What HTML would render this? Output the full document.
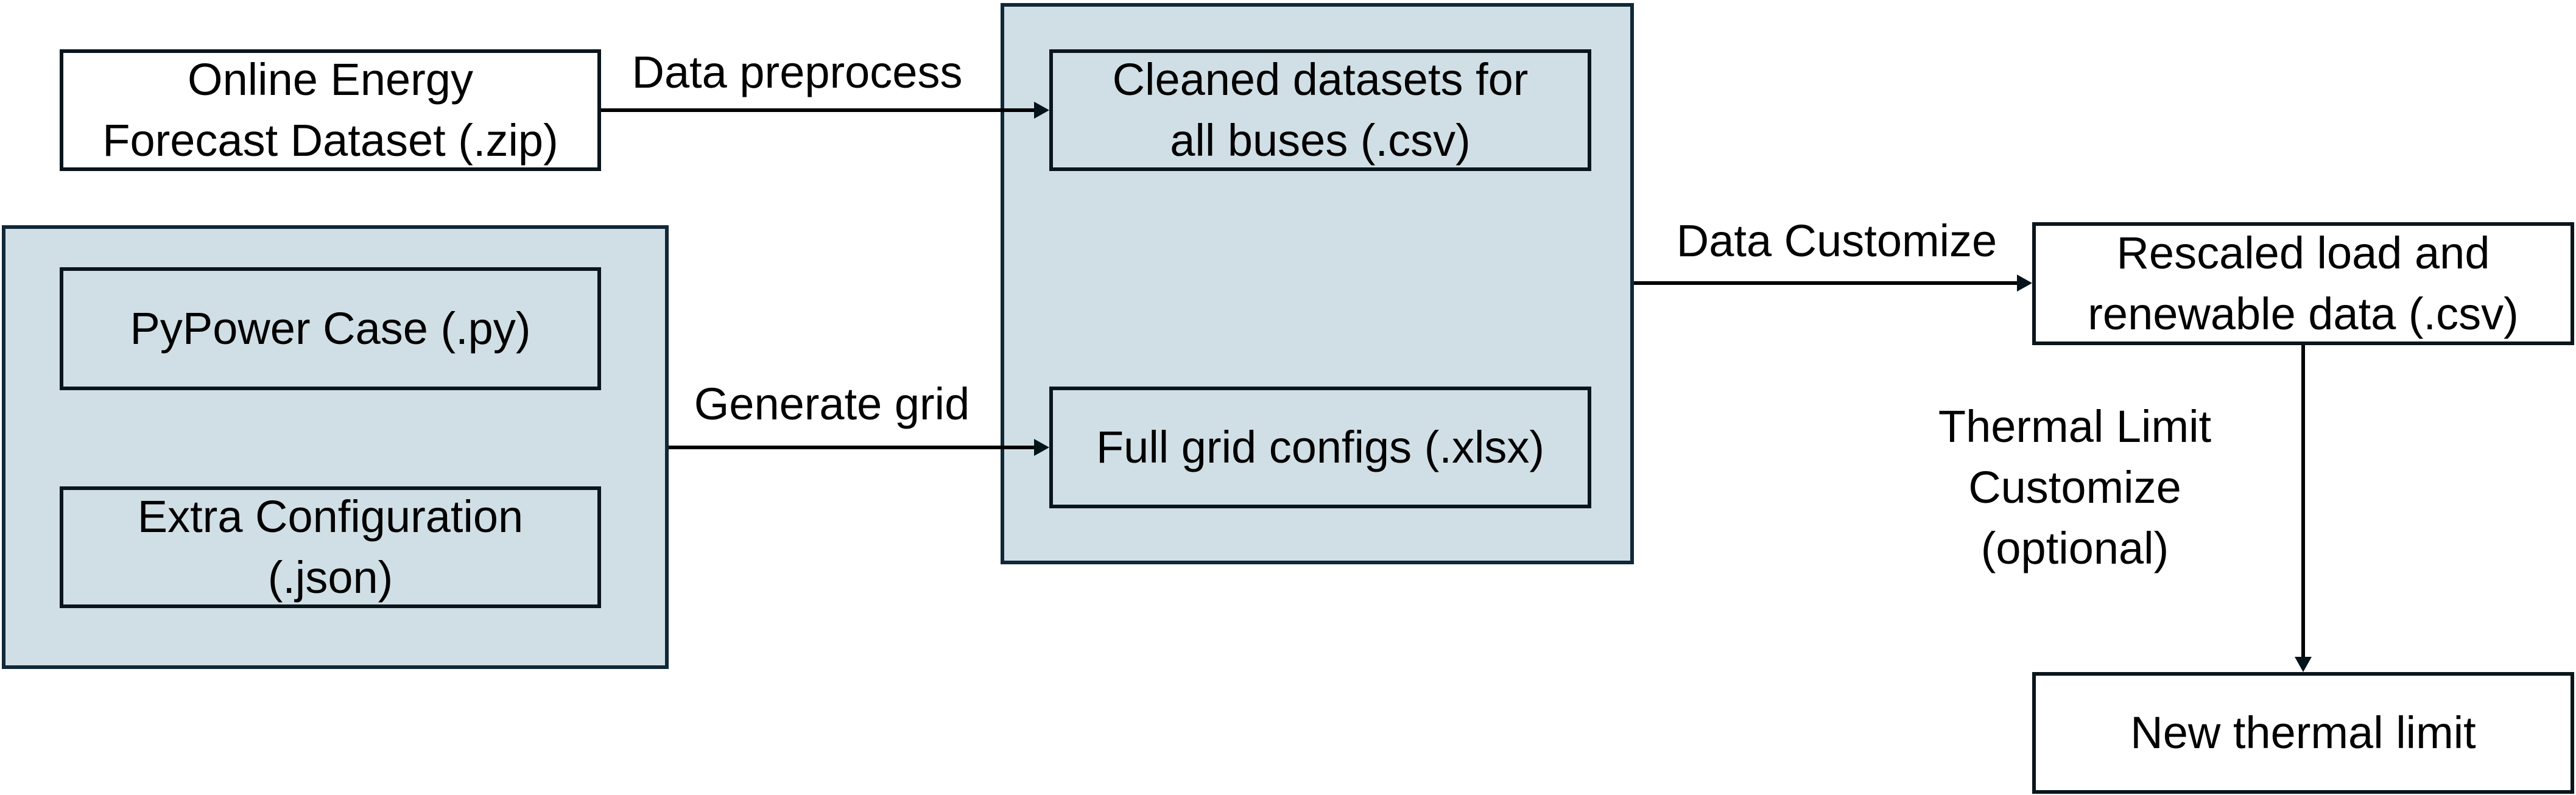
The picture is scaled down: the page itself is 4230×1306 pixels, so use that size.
<!DOCTYPE html>
<html><head><meta charset="utf-8"><style>
html,body{margin:0;padding:0;background:#fff;}
body{width:4230px;height:1306px;position:relative;overflow:hidden;font-family:"Liberation Sans",sans-serif;color:#000;}
.b{position:absolute;box-sizing:border-box;border:6px solid #0a161c;display:flex;align-items:center;justify-content:center;text-align:center;font-size:74px;line-height:100px;}
.p{position:absolute;box-sizing:border-box;border:6px solid #102838;background:#d0dfe5;}
.l{position:absolute;font-size:74px;line-height:100px;text-align:center;white-space:nowrap;transform:translateX(-50%);}
</style></head><body>
<div class="p" style="left:3px;top:370px;width:1095px;height:729px;"></div>
<div class="p" style="left:1643px;top:5px;width:1040px;height:922px;"></div>
<div class="b" style="left:98px;top:81px;width:889px;height:200px;background:#fff;">Online Energy<br>Forecast Dataset (.zip)</div>
<div class="b" style="left:98px;top:439px;width:889px;height:202px;">PyPower Case (.py)</div>
<div class="b" style="left:98px;top:799px;width:889px;height:200px;">Extra Configuration<br>(.json)</div>
<div class="b" style="left:1723px;top:81px;width:890px;height:200px;">Cleaned datasets for<br>all buses (.csv)</div>
<div class="b" style="left:1723px;top:635px;width:890px;height:200px;">Full grid configs (.xlsx)</div>
<div class="b" style="left:3337px;top:365px;width:890px;height:202px;background:#fff;">Rescaled load and<br>renewable data (.csv)</div>
<div class="b" style="left:3337px;top:1104px;width:890px;height:200px;background:#fff;">New thermal limit</div>
<svg width="4230" height="1306" style="position:absolute;left:0;top:0;">
<g stroke="#000" stroke-width="6" fill="none">
<line x1="987" y1="181" x2="1700" y2="181"/>
<line x1="1098" y1="735" x2="1700" y2="735"/>
<line x1="2683" y1="465" x2="3312" y2="465"/>
<line x1="3782" y1="567" x2="3782" y2="1080"/>
</g>
<g fill="#05141a">
<polygon points="1723,181 1698,167 1698,195"/>
<polygon points="1723,735 1698,721 1698,749"/>
<polygon points="3337,465 3312,451 3312,479"/>
<polygon points="3782,1104 3768,1079 3796,1079"/>
</g>
</svg>
<div class="l" style="left:1309px;top:69px;">Data preprocess</div>
<div class="l" style="left:1366px;top:614px;">Generate grid</div>
<div class="l" style="left:3016px;top:346px;">Data Customize</div>
<div class="l" style="left:3407px;top:651px;">Thermal Limit<br>Customize<br>(optional)</div>
</body></html>
